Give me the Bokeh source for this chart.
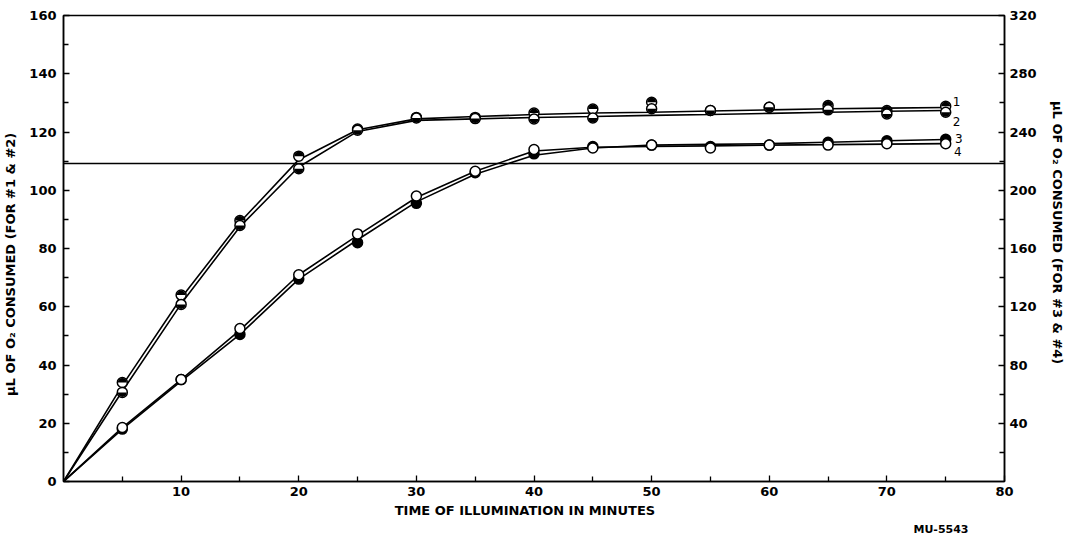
import math
from bokeh.plotting import figure
from bokeh.models import Range1d, LinearAxis, FixedTicker, Span, Title
from bokeh.embed import file_html
from bokeh.resources import INLINE
from bokeh.core.properties import value

# ---- data ----
minutes = [0, 5, 10, 15, 20, 25, 30, 35, 40, 45, 50, 55, 60, 65, 70, 75]

# curves 1 & 2 : left axis (uL O2)
pts1 = [0, 34, 64, 89.6, 111.7, 121, 125, 125, 126.5, 127.9, 130.2, 127.4, 128.5, 129.1, 127.4, 128.8]
pts2 = [0, 30.6, 60.8, 87.9, 107.4, 120.6, 124.8, 124.6, 124.5, 124.8, 128, 127.4, 128.5, 127.6, 126.2, 126.8]
fit1 = [0, 33, 63, 89, 110.5, 120.8, 124.5, 125.3, 126, 126.5, 126.8, 127.2, 127.6, 128, 128.2, 128.4]
fit2 = [0, 31, 61, 87.5, 108, 120.2, 124, 124.5, 125, 125.3, 125.7, 126, 126.4, 126.8, 127.1, 127.4]

# curves 3 & 4 : right axis (uL O2)
pts3 = [0, 36, 70, 101, 139, 164, 191, 212, 225, 230, 231, 230, 231, 233, 234, 235]
pts4 = [0, 37, 70, 105, 142, 170, 196, 213, 228, 229, 231, 229, 231, 231, 232, 232]
fit3 = [0, 36, 69, 101, 139, 166, 192, 211, 224, 229, 231, 231.5, 232, 233, 234, 234.8]
fit4 = [0, 37, 70, 104, 142, 169, 195, 213, 227, 229.5, 230, 230.5, 231, 231.3, 231.7, 232]

ref_line_left = 109.2

curve_labels = ["1", "2", "3", "4"]
label_x = [75.6, 75.6, 75.8, 75.7]
label_y = [130.6, 123.7, 117.7, 113.4]

x_ticks = [10, 20, 30, 40, 50, 60, 70, 80]
x_minor = [5, 15, 25, 35, 45, 55, 65, 75]
left_ticks = [0, 20, 40, 60, 80, 100, 120, 140, 160]
left_minor = [10, 30, 50, 70, 90, 110, 130, 150]
right_ticks = [40, 80, 120, 160, 200, 240, 280, 320]
right_minor = [20, 60, 100, 140, 180, 220, 260, 300]

FONT = "DejaVu Sans"

p = figure(frame_width=941, frame_height=466,
           x_range=Range1d(0, 80), y_range=Range1d(0, 160),
           output_backend="svg", toolbar_location=None,
           min_border_left=61, min_border_right=58, min_border_top=15, min_border_bottom=30)
p.extra_y_ranges = {"right": Range1d(0, 320)}
p.xgrid.visible = False
p.ygrid.visible = False
p.outline_line_color = "black"
p.outline_line_width = 1.5
p.background_fill_color = "white"
p.border_fill_color = "white"

def style_axis(ax):
    ax.axis_line_width = 1.5
    ax.axis_line_color = "black"
    ax.major_tick_in = 6
    ax.major_tick_out = 0
    ax.minor_tick_in = 5
    ax.minor_tick_out = 0
    ax.major_tick_line_width = 1.3
    ax.minor_tick_line_width = 1.3
    ax.major_label_text_font = FONT
    ax.major_label_text_font_style = "bold"
    ax.major_label_text_font_size = "13px"
    ax.major_label_text_color = "black"
    ax.axis_label_text_font = FONT
    ax.axis_label_text_font_style = "bold"
    ax.axis_label_text_font_size = "13px"
    ax.axis_label_text_color = "black"

xa = p.xaxis[0]
style_axis(xa)
xa.ticker = FixedTicker(ticks=x_ticks, minor_ticks=x_minor)
xa.axis_label = "TIME  OF  ILLUMINATION  IN  MINUTES"
xa.major_label_standoff = 5
xa.axis_label_standoff = 4

ya = p.yaxis[0]
style_axis(ya)
ya.ticker = FixedTicker(ticks=left_ticks, minor_ticks=left_minor)
ya.axis_label = "μL  OF  O₂  CONSUMED  (FOR  #1  &  #2)"
ya.major_label_standoff = 7
ya.axis_label_standoff = 8

ra = LinearAxis(y_range_name="right")
style_axis(ra)
ra.ticker = FixedTicker(ticks=right_ticks, minor_ticks=right_minor)
ra.axis_label = "μL  OF  O₂  CONSUMED  (FOR  #3  &  #4)"
ra.major_label_standoff = 5
ra.axis_label_standoff = 10
p.add_layout(ra, "right")

p.add_layout(Title(text="MU-5543", align="right", offset=36, standoff=0, text_font=FONT,
                   text_font_style="bold", text_font_size="11px", text_color="black"), "below")

p.add_layout(Span(location=ref_line_left, dimension="width", line_color="black", line_width=1.5))

# curves
for fit, rng in ((fit1, "default"), (fit2, "default"), (fit3, "right"), (fit4, "right")):
    p.line(minutes, fit, line_color="black", line_width=1.6, y_range_name=rng)

R = 4.5
# curve 1 : top-half filled circles
p.scatter(minutes[1:], pts1[1:], size=2 * R + 1, marker="circle", fill_color="white", line_color="black", line_width=1.5)
p.wedge(minutes[1:], pts1[1:], radius=R, radius_units="screen", start_angle=0, end_angle=math.pi,
        fill_color="black", line_color=None)
# curve 2 : bottom-half filled circles
p.scatter(minutes[1:], pts2[1:], size=2 * R + 1, marker="circle", fill_color="white", line_color="black", line_width=1.5)
p.wedge(minutes[1:], pts2[1:], radius=R, radius_units="screen", start_angle=math.pi, end_angle=2 * math.pi,
        fill_color="black", line_color=None)
# curve 3 : filled circles ; curve 4 : open circles
p.scatter(minutes[1:], pts3[1:], size=2 * R + 1, marker="circle", fill_color="black", line_color="black",
          line_width=1.5, y_range_name="right")
p.scatter(minutes[1:], pts4[1:], size=2 * R + 1, marker="circle", fill_color="white", line_color="black",
          line_width=1.5, y_range_name="right")

p.text(x=label_x, y=label_y, text=curve_labels, text_font=value(FONT), text_font_size="12px",
       text_color="black", text_baseline="middle", text_align="left")

open("out.html", "w").write(file_html(p, INLINE))
